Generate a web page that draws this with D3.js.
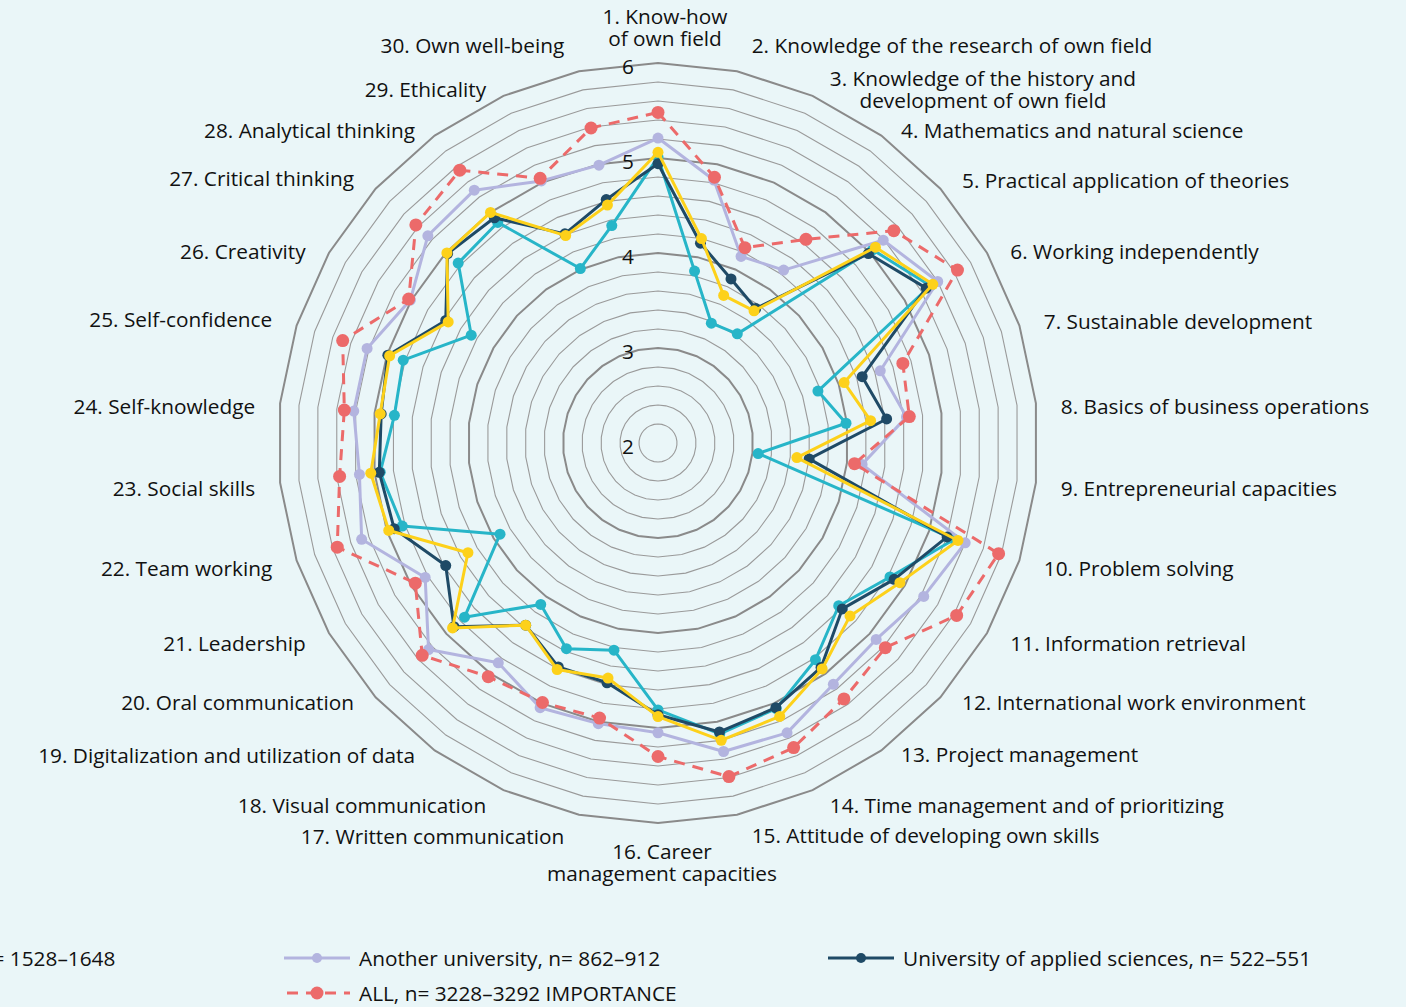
<!DOCTYPE html>
<html lang="en">
<head>
  <meta charset="UTF-8">
  <title>Competences radar</title>
  <script src="https://d3js.org/d3.v7.min.js"></script>
  <style>
    body { margin: 0; background: #eaf6f8; }
    svg { display: block; font-family: "Open Sans", "Noto Sans", sans-serif; }
  </style>
</head>
<body>
  <div id="chart"></div>
  <script>
    const categories = [
      "1. Know-how\nof own field",
      "2. Knowledge of the research of own field",
      "3. Knowledge of the history and\ndevelopment of own field",
      "4. Mathematics and natural science",
      "5. Practical application of theories",
      "6. Working independently",
      "7. Sustainable development",
      "8. Basics of business operations",
      "9. Entrepreneurial capacities",
      "10. Problem solving",
      "11. Information retrieval",
      "12. International work environment",
      "13. Project management",
      "14. Time management and of prioritizing",
      "15. Attitude of developing own skills",
      "16. Career\nmanagement capacities",
      "17. Written communication",
      "18. Visual communication",
      "19. Digitalization and utilization of data",
      "20. Oral communication",
      "21. Leadership",
      "22. Team working",
      "23. Social skills",
      "24. Self-knowledge",
      "25. Self-confidence",
      "26. Creativity",
      "27. Critical thinking",
      "28. Analytical thinking",
      "29. Ethicality",
      "30. Own well-being"
    ];

    const aalto = [5.01, 3.85, 3.38, 3.42, 5.04, 5.31, 3.77, 3.99, 3.06, 5.28,
                   4.82, 4.56, 4.82, 5.06, 5.13, 4.81, 4.23, 4.37, 4.10, 4.74,
                   3.92, 4.83, 4.94, 4.79, 4.82, 4.27, 4.83, 4.87, 4.01, 4.34];
    const another = [5.21, 4.83, 4.15, 4.25, 5.19, 5.40, 4.46, 4.63, 4.16, 5.40,
                     5.23, 5.09, 5.14, 5.34, 5.32, 5.05, 5.02, 5.05, 4.86, 5.25,
                     4.83, 5.28, 5.16, 5.22, 5.22, 5.01, 5.26, 5.29, 5.02, 4.99];
    const uas = [4.94, 4.15, 3.89, 3.75, 4.98, 5.26, 4.26, 4.42, 3.60, 5.20,
                 4.87, 4.61, 4.92, 5.05, 5.11, 4.86, 4.58, 4.58, 4.37, 4.89,
                 4.58, 4.92, 4.95, 4.93, 4.99, 4.58, 4.98, 4.93, 4.41, 4.62];
    const allLevel = [5.06, 4.20, 3.70, 3.72, 5.08, 5.34, 4.06, 4.25, 3.47, 5.32,
                      4.94, 4.72, 4.94, 5.15, 5.20, 4.88, 4.53, 4.61, 4.37, 4.91,
                      4.31, 4.98, 5.04, 4.94, 4.97, 4.55, 4.99, 5.00, 4.39, 4.56];
    const importance = [5.48, 4.86, 4.25, 4.65, 5.34, 5.64, 4.71, 4.66, 4.08, 5.77,
                        5.63, 5.22, 5.33, 5.51, 5.59, 5.30, 4.96, 4.99, 5.04, 5.34,
                        4.95, 5.55, 5.37, 5.32, 5.49, 5.03, 5.43, 5.55, 5.05, 5.39];

    const tickValues = [2, 3, 4, 5, 6];

    // legend order = drawing order (later on top)
    const series = [
      { name: "Aalto University, n= 1528\u20131648", values: aalto, color: "#27b5c8" },
      { name: "Another university, n= 862\u2013912", values: another, color: "#b3b4df" },
      { name: "University of applied sciences, n= 522\u2013551", values: uas, color: "#1f4a66" },
      { name: "ALL, n= 3228\u20133292", values: allLevel, color: "#fdd11a" },
      { name: "ALL, n= 3228\u20133292 IMPORTANCE", values: importance, color: "#ec6a6a", dashed: true }
    ];

    const width = 1406, height = 1007;
    const cx = 658, cy = 443;
    const fontSize = 20.8;

    const svg = d3.select("#chart").append("svg")
      .attr("width", width)
      .attr("height", height);

    svg.append("rect").attr("width", width).attr("height", height).attr("fill", "#eaf6f8");

    const r = d3.scaleLinear().domain([2, 6]).range([0, 380]);
    const n = categories.length;
    const angle = i => i * 2 * Math.PI / n;

    const g = svg.append("g").attr("transform", `translate(${cx},${cy})`);

    // grid rings every 0.2, heavier on whole numbers
    const rings = d3.range(2.2, 6.01, 0.2).map(v => +v.toFixed(1));
    const ringLine = d3.lineRadial().angle((d, i) => angle(i)).curve(d3.curveLinearClosed);
    g.selectAll(".ring")
      .data(rings)
      .join("path")
      .attr("class", "ring")
      .attr("d", v => ringLine.radius(() => r(v))(categories))
      .attr("fill", "none")
      .attr("stroke", v => Number.isInteger(v) ? "#8a8a8a" : "#9a9a9a")
      .attr("stroke-width", v => Number.isInteger(v) ? 2 : 1.1);

    // scale labels
    g.selectAll(".tick")
      .data(tickValues)
      .join("text")
      .attr("class", "tick")
      .attr("x", -24)
      .attr("y", v => -r(v) + 3)
      .attr("text-anchor", "end")
      .attr("dominant-baseline", "central")
      .attr("font-size", fontSize)
      .attr("fill", "#111")
      .text(v => v);

    // series
    const line = d3.lineRadial()
      .angle((d, i) => angle(i))
      .radius(d => r(d))
      .curve(d3.curveLinearClosed);

    series.forEach(s => {
      const sg = g.append("g");
      sg.append("path")
        .attr("d", line(s.values))
        .attr("fill", "none")
        .attr("stroke", s.color)
        .attr("stroke-width", 3)
        .attr("stroke-linejoin", "round")
        .attr("stroke-dasharray", s.dashed ? "11,8" : null);
      sg.selectAll("circle")
        .data(s.values)
        .join("circle")
        .attr("cx", (d, i) => d3.pointRadial(angle(i), r(d))[0])
        .attr("cy", (d, i) => d3.pointRadial(angle(i), r(d))[1])
        .attr("r", s.dashed ? 6.5 : 5.5)
        .attr("fill", s.color);
    });

    // category labels
    const nudge = { 0: [7, -28], 1: [0, -19], 29: [0, -19], 4: [0, -5], 26: [0, -7],
                    6: [0, -5], 24: [0, -7], 11: [0, -7], 19: [0, -7], 12: [0, -10],
                    18: [0, -9], 14: [0, 5], 16: [0, 6], 15: [4, 23] };
    const labels = svg.append("g").attr("font-size", fontSize).attr("fill", "#111");
    categories.forEach((c, i) => {
      const a = angle(i);
      const s = Math.sin(a), co = Math.cos(a);
      const side = Math.abs(s) < 0.01 ? 0 : Math.sign(s);
      const [nx, ny] = nudge[i] || [0, 0];
      const x = cx + 393 * s + 12 * side + nx;
      const yc = cy - 392 * co + 4 + ny;
      const lines = c.split("\n");
      const t = labels.append("text").attr("dominant-baseline", "central");
      lines.forEach((ln, k) => {
        t.append("tspan").attr("y", yc + (k - (lines.length - 1) / 2) * 22).text(ln);
      });
      const w = d3.max(t.selectAll("tspan").nodes(), nd => nd.getComputedTextLength());
      const mid = side === 0 ? x : side > 0 ? x + w / 2 : x - w / 2;
      t.attr("text-anchor", "middle").selectAll("tspan").attr("x", mid);
    });

    // legend (wider than the page, first column falls off the left)
    const legCols = [-258, 284, 828];
    const legRows = [958, 993];
    const leg = svg.append("g").attr("font-size", fontSize).attr("fill", "#111");
    series.forEach((s, i) => {
      const x = legCols[i % 3], y = legRows[Math.floor(i / 3)];
      const item = leg.append("g").attr("transform", `translate(${x},${y})`);
      item.append("line")
        .attr("x1", 0).attr("x2", 66)
        .attr("stroke", s.color).attr("stroke-width", 3)
        .attr("stroke-dasharray", s.dashed ? "11,8" : null)
        .attr("stroke-dashoffset", s.dashed ? -3 : null);
      item.append("circle").attr("cx", 33).attr("r", s.dashed ? 6.5 : 5).attr("fill", s.color);
      item.append("text").attr("x", 75).attr("dominant-baseline", "central").text(s.name);
    });
  </script>
</body>
</html>
